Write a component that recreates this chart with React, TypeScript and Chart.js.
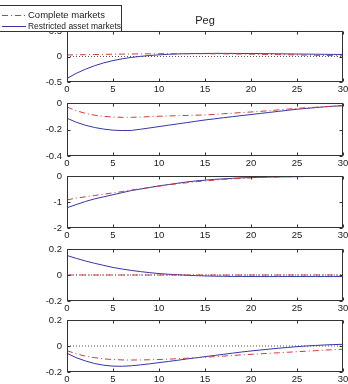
import React, { useEffect, useRef } from "react";
import { Chart, registerables } from "chart.js";
Chart.register(...registerables);

// ---------- data ----------
const periods = [0,1,2,3,4,5,6,7,8,9,10,11,12,13,14,15,16,17,18,19,20,21,22,23,24,25,26,27,28,29,30];
const xTickStep = 5;
const seriesNames = ["Complete markets", "Restricted asset markets"];
const chartTitle = "Peg";

const p1Complete = [0.03,0.033,0.036,0.039,0.042,0.045,0.047,0.049,0.051,0.053,0.054,0.055,0.055,0.055,0.055,0.054,0.053,0.052,0.05,0.048,0.046,0.043,0.04,0.037,0.034,0.03,0.027,0.023,0.02,0.016,0.013];
const p1Restricted = [-0.43,-0.33,-0.25,-0.18,-0.125,-0.08,-0.045,-0.018,0.003,0.02,0.033,0.043,0.05,0.055,0.058,0.06,0.061,0.061,0.06,0.059,0.058,0.057,0.055,0.053,0.051,0.049,0.047,0.045,0.043,0.041,0.04];
const p1Ticks = [-0.5, 0, 0.5];
const p1TickLabels = ["-0.5", "0", "0.5"];

const p2Complete = [-0.03,-0.058,-0.078,-0.092,-0.101,-0.106,-0.108,-0.108,-0.106,-0.103,-0.1,-0.098,-0.096,-0.094,-0.092,-0.09,-0.086,-0.081,-0.077,-0.072,-0.068,-0.063,-0.058,-0.052,-0.046,-0.04,-0.036,-0.032,-0.028,-0.024,-0.02];
const p2Restricted = [-0.115,-0.145,-0.168,-0.185,-0.197,-0.205,-0.208,-0.207,-0.198,-0.188,-0.178,-0.168,-0.158,-0.148,-0.138,-0.128,-0.12,-0.111,-0.103,-0.095,-0.087,-0.079,-0.071,-0.063,-0.055,-0.047,-0.041,-0.035,-0.029,-0.024,-0.02];
const p2Ticks = [-0.4, -0.2, 0];
const p2TickLabels = ["-0.4", "-0.2", "0"];

const p3Complete = [-0.92,-0.85,-0.8,-0.75,-0.7,-0.65,-0.6,-0.54,-0.49,-0.44,-0.39,-0.34,-0.3,-0.26,-0.22,-0.19,-0.16,-0.13,-0.11,-0.09,-0.07,-0.055,-0.045,-0.035,-0.028,-0.022,-0.017,-0.013,-0.01,-0.008,-0.006];
const p3Restricted = [-1.22,-1.1,-0.98,-0.88,-0.8,-0.72,-0.64,-0.56,-0.5,-0.44,-0.38,-0.33,-0.28,-0.23,-0.19,-0.16,-0.13,-0.11,-0.09,-0.07,-0.06,-0.05,-0.04,-0.035,-0.03,-0.025,-0.02,-0.015,-0.01,-0.01,-0.01];
const p3Ticks = [-2, -1, 0];
const p3TickLabels = ["-2", "-1", "0"];

const p4Complete = [0,0,0,0,0,0,0,0,0,0,0,0,0,0,0,0,0,0,0,0,0,0,0,0,0,0,0,0,0,0,0];
const p4Restricted = [0.15,0.128,0.108,0.09,0.074,0.058,0.046,0.035,0.026,0.018,0.011,0.006,0.002,-0.002,-0.005,-0.007,-0.009,-0.01,-0.011,-0.011,-0.012,-0.012,-0.012,-0.012,-0.012,-0.012,-0.012,-0.012,-0.012,-0.012,-0.012];
const p4Ticks = [-0.2, 0, 0.2];
const p4TickLabels = ["-0.2", "0", "0.2"];

const p5Complete = [-0.036,-0.06,-0.078,-0.09,-0.099,-0.104,-0.107,-0.108,-0.107,-0.106,-0.104,-0.101,-0.098,-0.094,-0.09,-0.087,-0.082,-0.078,-0.073,-0.068,-0.064,-0.06,-0.056,-0.052,-0.048,-0.044,-0.04,-0.036,-0.032,-0.028,-0.025];
const p5Restricted = [-0.056,-0.09,-0.115,-0.135,-0.148,-0.155,-0.156,-0.152,-0.145,-0.137,-0.128,-0.119,-0.11,-0.1,-0.091,-0.082,-0.073,-0.064,-0.055,-0.046,-0.038,-0.031,-0.024,-0.017,-0.011,-0.005,0.0,0.004,0.008,0.011,0.013];
const p5Ticks = [-0.2, 0, 0.2];
const p5TickLabels = ["-0.2", "0", "0.2"];

const panelData = [
  { complete: p1Complete, restricted: p1Restricted, ticks: p1Ticks, labels: p1TickLabels },
  { complete: p2Complete, restricted: p2Restricted, ticks: p2Ticks, labels: p2TickLabels },
  { complete: p3Complete, restricted: p3Restricted, ticks: p3Ticks, labels: p3TickLabels },
  { complete: p4Complete, restricted: p4Restricted, ticks: p4Ticks, labels: p4TickLabels },
  { complete: p5Complete, restricted: p5Restricted, ticks: p5Ticks, labels: p5TickLabels },
];

// ---------- layout / style ----------
const W = 348;
const PLOT_LEFT = 67;
const PLOT_RIGHT = 343;
const PANEL_TOPS = [31, 103, 176, 249, 320];
const PANEL_BOTTOMS = [82, 156, 228, 301, 372];
const X_AXIS_H = 14;
const RED = "#d03a3a";
const BLUE = "#3535a8";
const FRAME = "#333333";
const TEXT = "#222222";
const FONT_FAMILY = "'Liberation Sans', Arial, sans-serif";

const framePlugin = {
  id: "matlabFrame",
  afterDraw(chart: any) {
    const ctx = chart.ctx;
    const a = chart.chartArea;
    const xs = chart.scales.x;
    const ys = chart.scales.y;
    const l = Math.round(a.left) + 0.5, r = Math.round(a.right) - 0.5;
    const t = Math.round(a.top) + 0.5, b = Math.round(a.bottom) - 0.5;
    ctx.save();
    ctx.strokeStyle = FRAME;
    ctx.lineWidth = 1;
    ctx.strokeRect(l, t, r - l, b - t);
    ctx.beginPath();
    const tl = 3;
    xs.ticks.forEach((tk: any) => {
      const px = Math.round(xs.getPixelForValue(tk.value)) + 0.5;
      ctx.moveTo(px, b); ctx.lineTo(px, b - tl);
      ctx.moveTo(px, t); ctx.lineTo(px, t + tl);
    });
    ys.ticks.forEach((tk: any) => {
      const py = Math.round(ys.getPixelForValue(tk.value)) + 0.5;
      ctx.moveTo(l, py); ctx.lineTo(l + tl, py);
      ctx.moveTo(r, py); ctx.lineTo(r - tl, py);
    });
    ctx.stroke();
    ctx.restore();
  },
};

const titleLegendPlugin = {
  id: "titleLegend",
  afterDraw(chart: any) {
    const ctx = chart.ctx;
    const a = chart.chartArea;
    ctx.save();
    // title
    ctx.fillStyle = TEXT;
    ctx.font = `11px ${FONT_FAMILY}`;
    ctx.textAlign = "center";
    ctx.textBaseline = "alphabetic";
    ctx.fillText(chartTitle, (a.left + a.right) / 2, 24);
    // legend box
    ctx.fillStyle = "#ffffff";
    ctx.fillRect(-1, 5, 123, 27);
    ctx.strokeStyle = FRAME;
    ctx.lineWidth = 1;
    ctx.strokeRect(-1.5, 5.5, 123, 26);
    // samples
    ctx.lineWidth = 1;
    ctx.strokeStyle = RED;
    ctx.setLineDash([6, 3, 1, 3]);
    ctx.beginPath(); ctx.moveTo(2, 15.5); ctx.lineTo(26, 15.5); ctx.stroke();
    ctx.setLineDash([]);
    ctx.strokeStyle = BLUE;
    ctx.beginPath(); ctx.moveTo(2, 26.5); ctx.lineTo(26, 26.5); ctx.stroke();
    ctx.fillStyle = TEXT;
    ctx.font = `9.5px ${FONT_FAMILY}`;
    ctx.textAlign = "left";
    ctx.textBaseline = "middle";
    ctx.fillText(seriesNames[0], 28, 15.5, 77);
    ctx.fillText(seriesNames[1], 28, 26.5, 93);
    ctx.restore();
  },
};

function Panel({ index }: { index: number }) {
  const ref = useRef<HTMLCanvasElement | null>(null);
  const top = PANEL_TOPS[index];
  const bottom = PANEL_BOTTOMS[index];
  const padTop = index === 0 ? top : 8;
  const canvasTop = top - padTop;
  const height = padTop + (bottom - top) + X_AXIS_H;

  useEffect(() => {
    if (!ref.current) return;
    const d = panelData[index];
    const toPts = (arr: number[]) => periods.map((p, i) => ({ x: p, y: arr[i] }));
    const yMin = d.ticks[0];
    const yMax = d.ticks[d.ticks.length - 1];
    const chart = new Chart(ref.current, {
      type: "line",
      data: {
        datasets: [
          {
            label: seriesNames[1],
            data: toPts(d.restricted),
            borderColor: BLUE,
            borderWidth: 1,
            pointRadius: 0,
            tension: 0,
            order: 1,
          },
          {
            label: seriesNames[0],
            data: toPts(d.complete),
            borderColor: RED,
            borderWidth: 1,
            borderDash: [6, 3, 1, 3],
            pointRadius: 0,
            tension: 0,
            order: 0,
          },
          {
            label: "zero",
            data: [{ x: periods[0], y: 0 }, { x: periods[periods.length - 1], y: 0 }],
            borderColor: "#555555",
            borderWidth: 1,
            borderDash: [1, 2],
            pointRadius: 0,
            order: 2,
          },
        ],
      },
      options: {
        animation: false,
        responsive: false,
        maintainAspectRatio: false,
        devicePixelRatio: 1,
        events: [],
        layout: { padding: { top: padTop, right: W - PLOT_RIGHT, bottom: 0, left: 0 } },
        plugins: {
          legend: { display: false },
          tooltip: { enabled: false },
          title: { display: false },
        },
        scales: {
          x: {
            type: "linear",
            min: periods[0],
            max: periods[periods.length - 1],
            grid: { display: false, drawTicks: false },
            border: { display: false },
            ticks: {
              stepSize: xTickStep,
              autoSkip: false,
              maxRotation: 0,
              padding: 2,
              color: TEXT,
              font: { family: FONT_FAMILY, size: 9.5 },
            },
            afterFit: (s: any) => {
              s.height = X_AXIS_H;
              s.paddingLeft = 0;
              s.paddingRight = 0;
            },
          },
          y: {
            type: "linear",
            min: yMin,
            max: yMax,
            grid: { display: false, drawTicks: false },
            border: { display: false },
            ticks: {
              stepSize: d.ticks[1] - d.ticks[0],
              autoSkip: false,
              padding: 5,
              color: TEXT,
              font: { family: FONT_FAMILY, size: 9.5 },
              callback: (_v: any, i: number) => d.labels[i],
            },
            afterFit: (s: any) => {
              s.width = PLOT_LEFT;
              s.paddingTop = 0;
              s.paddingBottom = 0;
            },
          },
        },
      },
      plugins: index === 0 ? [framePlugin, titleLegendPlugin] : [framePlugin],
    } as any);
    return () => chart.destroy();
  }, [index, padTop]);

  return (
    <canvas
      ref={ref}
      width={W}
      height={height}
      style={{ position: "absolute", left: 0, top: canvasTop, width: W, height }}
    />
  );
}

export default function App() {
  return (
    <div
      style={{
        position: "fixed",
        left: 0,
        top: 0,
        width: W,
        height: 384,
        background: "#ffffff",
        overflow: "hidden",
      }}
    >
      {[1, 2, 3, 4, 0].map((i) => (
        <Panel key={i} index={i} />
      ))}
    </div>
  );
}
